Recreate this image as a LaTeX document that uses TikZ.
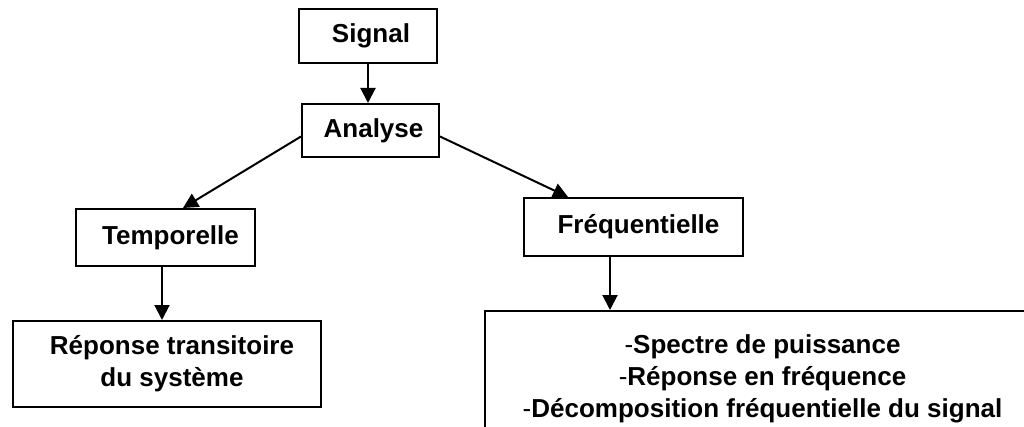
\documentclass[tikz,border=0pt]{standalone}
\usepackage{fontspec}
\setmainfont{Liberation Sans}
\usepackage{tikz}
\usetikzlibrary{positioning,arrows.meta,calc}
\tikzset{
  >={Triangle[length=15pt,width=15pt]},
  every node/.style={font=\fontsize{26}{32}\selectfont\bfseries},
  % --- nodes
  box/.style  = {draw=black, fill=white, line width=2pt, align=center, inner sep=0pt},
  % --- edges
  e/.style    = {->, line width=2pt, draw=black},
}
\begin{document}
\begin{tikzpicture}[x=1pt,y=-1pt]
  \useasboundingbox (0,0) rectangle (1024,427);
  \clip (0,0) rectangle (1024,427);

  % top
  \node[box, minimum width=138pt, minimum height=54pt] (signal)  at (368,36)    {\hspace{6pt}Signal};
  \node[box, minimum width=137pt, minimum height=53pt] (analyse) at (370.5,130.5) {\hspace{6pt}Analyse};

  % the two branches
  \node[box, minimum width=179pt, minimum height=57pt] (temporelle)    at (165.5,237.5) {\hspace{10pt}Temporelle};
  \node[box, minimum width=219pt, minimum height=58pt] (frequentielle) at (633.5,227)   {\hspace{10pt}Fréquentielle};

  % results
  \node[box, minimum width=308pt, minimum height=86pt] (reponse) at (167,364)
        {\hspace{10pt}Réponse transitoire\\\hspace{10pt}du système};
  \node[box, minimum width=555pt, minimum height=136pt] (decomp) at (762.5,379)
        {{\mdseries -}Spectre de puissance\\
         {\mdseries -}Réponse en fréquence\\
         {\mdseries -}Décomposition fréquentielle du signal};

  \draw[e] (signal.south) -- (signal.south |- analyse.north);
  \draw[e] ([yshift=-6pt]analyse.west) -- ([xshift=17.5pt]temporelle.north);
  \draw[e] ([yshift=-6pt]analyse.east) -- ([xshift=-65.5pt]frequentielle.north);
  \draw[e] ([xshift=-3.5pt]temporelle.south) -- ([xshift=-3.5pt]temporelle.south |- reponse.north);
  \draw[e] ([xshift=-23.5pt]frequentielle.south) -- ([xshift=-23.5pt]frequentielle.south |- decomp.north);
\end{tikzpicture}
\end{document}
